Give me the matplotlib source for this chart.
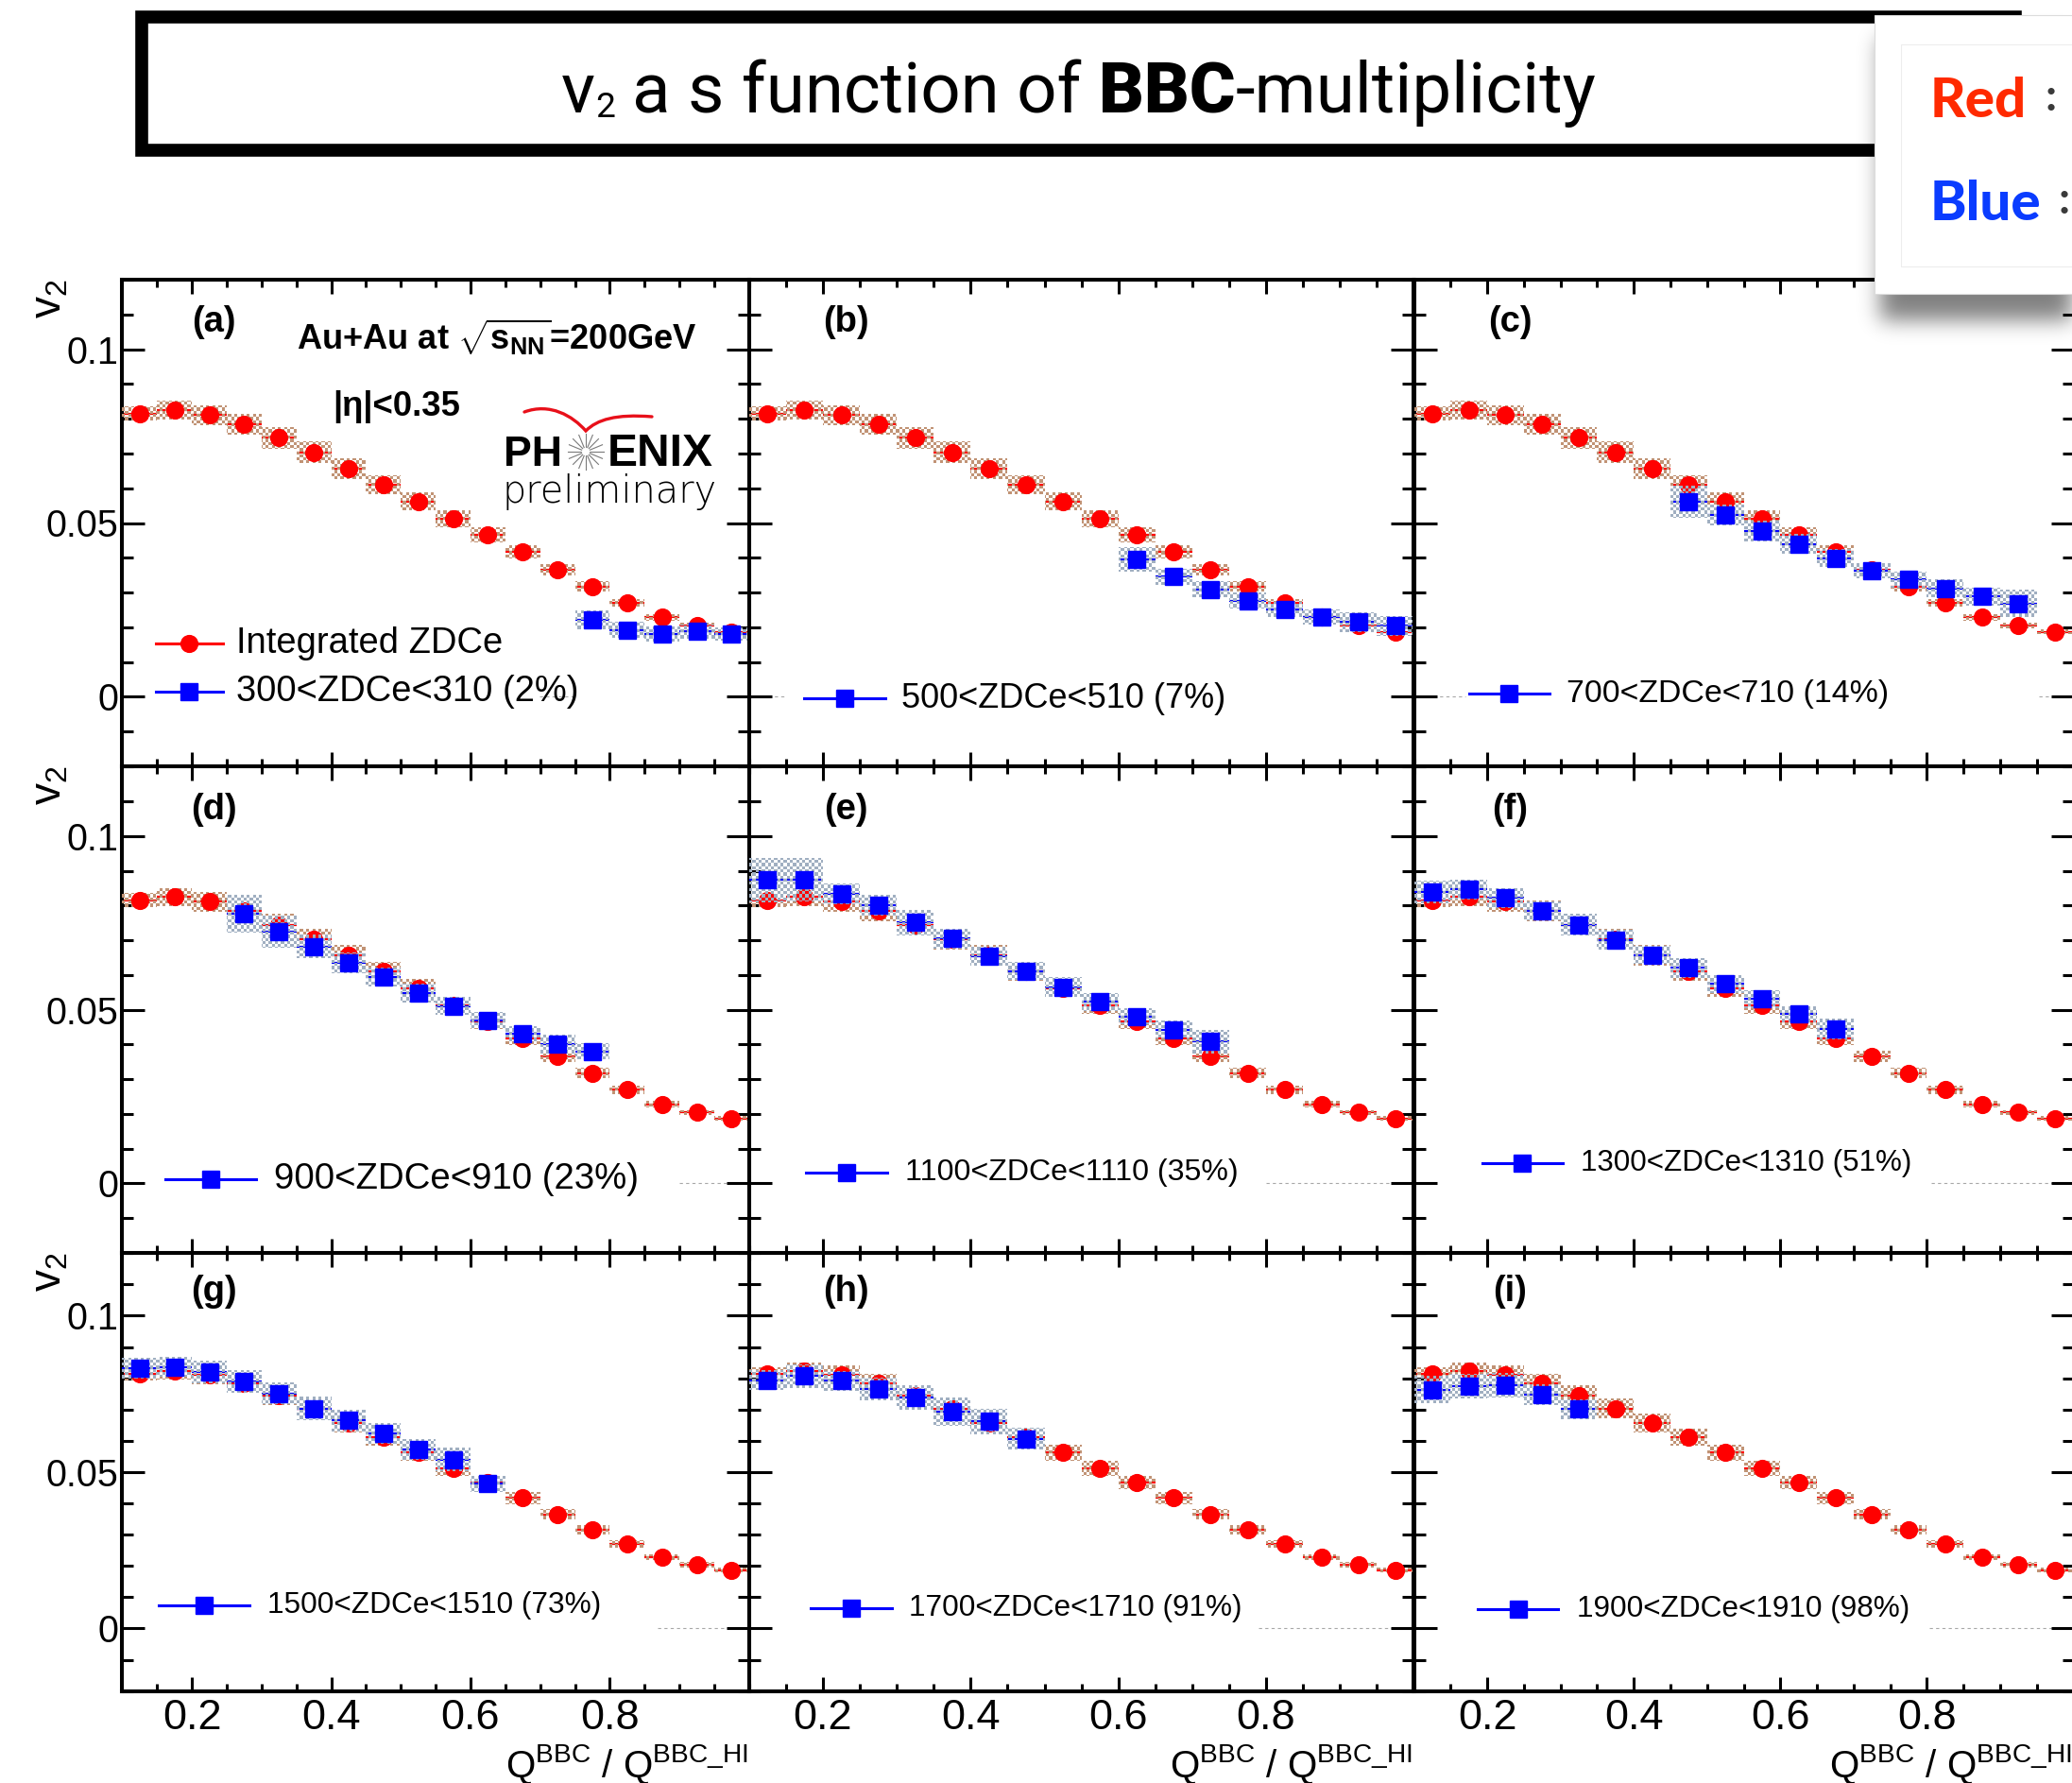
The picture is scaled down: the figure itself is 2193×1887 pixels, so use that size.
import numpy as np
import matplotlib
matplotlib.use('Agg')
import matplotlib.pyplot as plt
from matplotlib.patches import Rectangle, PathPatch
from matplotlib.path import Path
from matplotlib.ticker import MultipleLocator, FixedLocator, FuncFormatter

plt.rcParams['font.family'] = ['Liberation Sans', 'DejaVu Sans']
plt.rcParams['mathtext.fontset'] = 'custom'
plt.rcParams['mathtext.rm'] = 'Liberation Sans'
plt.rcParams['mathtext.bf'] = 'Liberation Sans:bold'
plt.rcParams['mathtext.it'] = 'Liberation Sans:italic'

W, H, DPI = 2193, 1887, 100

# Q^BBC / Q^BBC_HI bin centres (bin half width 0.025)
q_centres = [0.125, 0.175, 0.225, 0.275, 0.325, 0.375, 0.425, 0.475, 0.525,
             0.575, 0.625, 0.675, 0.725, 0.775, 0.825, 0.875, 0.925, 0.975]
q_half = 0.025

# integrated ZDCe v2 and systematic half-heights
v2_int = [0.0815, 0.0824, 0.0811, 0.0784, 0.0745, 0.0703, 0.0657, 0.0611, 0.0562,
          0.0513, 0.0466, 0.0417, 0.0365, 0.0317, 0.0270, 0.0228, 0.0204, 0.0187]
sys_int = [0.0021, 0.0027, 0.0029, 0.0030, 0.0032, 0.0031, 0.0030, 0.0027, 0.0026,
           0.0024, 0.0022, 0.0019, 0.0017, 0.0015, 0.0012, 0.0009, 0.0008, 0.0007]

# ZDCe-selected v2: labels, first filled bin, values and systematics
zdc_labels = ['300<ZDCe<310 (2%)', '500<ZDCe<510 (7%)', '700<ZDCe<710 (14%)',
              '900<ZDCe<910 (23%)', '1100<ZDCe<1110 (35%)', '1300<ZDCe<1310 (51%)',
              '1500<ZDCe<1510 (73%)', '1700<ZDCe<1710 (91%)', '1900<ZDCe<1910 (98%)']
zdc_first_bin = [13, 10, 7, 3, 0, 0, 0, 0, 0]

v2_a = [0.0222, 0.0192, 0.0180, 0.0188, 0.0180]
sys_a = [0.0027, 0.0023, 0.0021, 0.0020, 0.0020]
v2_b = [0.0396, 0.0346, 0.0309, 0.0276, 0.0251, 0.0229, 0.0215, 0.0204]
sys_b = [0.0035, 0.0023, 0.0023, 0.0023, 0.0021, 0.0021, 0.0028, 0.0028]
v2_c = [0.0561, 0.0522, 0.0477, 0.0440, 0.0399, 0.0363, 0.0337, 0.0312, 0.0288, 0.0268]
sys_c = [0.0047, 0.0030, 0.0030, 0.0028, 0.0026, 0.0022, 0.0023, 0.0026, 0.0026, 0.0040]
v2_d = [0.0776, 0.0725, 0.0682, 0.0635, 0.0594, 0.0548, 0.0511, 0.0470, 0.0431, 0.0401, 0.0380]
sys_d = [0.0055, 0.0046, 0.0034, 0.0030, 0.0028, 0.0028, 0.0026, 0.0023, 0.0023, 0.0026, 0.0023]
v2_e = [0.0873, 0.0875, 0.0834, 0.0801, 0.0751, 0.0705, 0.0654, 0.0611, 0.0565,
        0.0523, 0.0480, 0.0443, 0.0408]
sys_e = [0.0063, 0.0063, 0.0030, 0.0030, 0.0037, 0.0028, 0.0028, 0.0026, 0.0028,
         0.0026, 0.0023, 0.0027, 0.0033]
v2_f = [0.0839, 0.0846, 0.0822, 0.0785, 0.0745, 0.0701, 0.0658, 0.0620, 0.0574,
        0.0531, 0.0487, 0.0445]
sys_f = [0.0033, 0.0028, 0.0029, 0.0028, 0.0031, 0.0029, 0.0027, 0.0028, 0.0026,
         0.0026, 0.0024, 0.0030]
v2_g = [0.0832, 0.0836, 0.0820, 0.0789, 0.0752, 0.0703, 0.0665, 0.0624, 0.0573, 0.0540, 0.0463]
sys_g = [0.0033, 0.0031, 0.0035, 0.0036, 0.0035, 0.0037, 0.0034, 0.0034, 0.0034, 0.0037, 0.0026]
v2_h = [0.0794, 0.0807, 0.0792, 0.0766, 0.0738, 0.0692, 0.0662, 0.0607]
sys_h = [0.0031, 0.0037, 0.0031, 0.0037, 0.0040, 0.0045, 0.0041, 0.0036]
v2_i = [0.0764, 0.0775, 0.0778, 0.0748, 0.0701]
sys_i = [0.0045, 0.0040, 0.0040, 0.0034, 0.0032]

v2_zdc = [v2_a, v2_b, v2_c, v2_d, v2_e, v2_f, v2_g, v2_h, v2_i]
sys_zdc = [sys_a, sys_b, sys_c, sys_d, sys_e, sys_f, sys_g, sys_h, sys_i]
panel_tags = ['(a)', '(b)', '(c)', '(d)', '(e)', '(f)', '(g)', '(h)', '(i)']

# ---- layout (pixels) ----
col_px = [(129.4, 792.8), (792.8, 1496.4), (1496.5, 2194.6)]
row_px = [(296.2, 810.8), (811.2, 1326.0), (1326.2, 1789.7)]

# legend geometry per panel, in data units: line start, line end, text start, row y
leg_line = [(0.148, 0.244), (0.174, 0.285), (0.175, 0.285), (0.162, 0.292), (0.177, 0.287),
            (0.193, 0.303), (0.152, 0.282), (0.183, 0.293), (0.187, 0.297)]
leg_text_x = [0.264, 0.3065, 0.308, 0.318, 0.311, 0.328, 0.309, 0.317, 0.322]
leg_y = [0.0014, -0.0005, 0.0008, 0.0013, 0.0031, 0.0058, 0.0074, 0.0064, 0.0062]
leg_text_w = [362, 343, 341, 386, 352, 351, 354, 352, 352]
# visible pieces of the dashed zero line (the rest sits under the legend box)
zero_pieces = [[(0.699, 0.748)], [(0.1, 0.148)], [(0.1, 0.170), (0.953, 1.0)],
               [(0.90, 1.0)], [(0.80, 1.0)], [(0.806, 1.0)], [(0.869, 1.0)],
               [(0.79, 1.0)], [(0.803, 1.0)]]

RED_BOX = (0.76, 0.58, 0.46)
BLUE_BOX = (0.63, 0.69, 0.76)

fig = plt.figure(figsize=(W / DPI, H / DPI), dpi=DPI)
fig.patch.set_facecolor('white')
renderer = fig.canvas.get_renderer()
to_fit = []


def checker_layer(ax, xs, ys, dys, rgb, z, w_px, h_px, cell=3.3):
    paths = []
    for x, y, d in zip(xs, ys, dys):
        paths.append(Path([(x - q_half, y - d), (x + q_half, y - d), (x + q_half, y + d),
                           (x - q_half, y + d), (x - q_half, y - d)],
                          [Path.MOVETO, Path.LINETO, Path.LINETO, Path.LINETO, Path.CLOSEPOLY]))
    clip = Path.make_compound_path(*paths)
    nx, ny = int(round(w_px / cell)), int(round(h_px / cell))
    jj, ii = np.meshgrid(np.arange(nx), np.arange(ny))
    img = np.zeros((ny, nx, 4))
    on = (ii + jj) % 2 == 0
    img[on, :3] = rgb
    img[on, 3] = 1.0
    im = ax.imshow(img, extent=(0.1, 1.0, -0.02, 0.12), origin='lower', aspect='auto',
                   interpolation='nearest', zorder=z)
    im.set_clip_path(clip, ax.transData)


def v2_fmt(v, pos):
    if abs(v) < 1e-9:
        return '0'
    return '%g' % round(v, 3)


for k in range(9):
    r, c = divmod(k, 3)
    x0, x1 = col_px[c]
    y0, y1 = row_px[r]
    ax = fig.add_axes([x0 / W, 1 - y1 / H, (x1 - x0) / W, (y1 - y0) / H])
    ax.set_facecolor('none')

    qx = np.array(q_centres)
    # integrated ZDCe (red)
    ax.hlines(v2_int, qx - q_half, qx + q_half, colors='red', lw=1.6, zorder=2)
    checker_layer(ax, qx, v2_int, sys_int, RED_BOX, 3, x1 - x0, y1 - y0)
    ax.plot(qx, v2_int, 'o', color='red', ms=12.8, mec='red', zorder=4)

    # ZDCe selection (blue)
    bx = qx[zdc_first_bin[k]:zdc_first_bin[k] + len(v2_zdc[k])]
    ax.hlines(v2_zdc[k], bx - q_half, bx + q_half, colors='blue', lw=1.6, zorder=5)
    checker_layer(ax, bx, v2_zdc[k], sys_zdc[k], BLUE_BOX, 6, x1 - x0, y1 - y0)
    ax.plot(bx, v2_zdc[k], 's', color='blue', ms=13.0, mec='blue', zorder=7)

    for za, zb in zero_pieces[k]:
        ax.hlines(0, za, zb, colors='#a8a8a8', lw=0.8, linestyles=(0, (3, 3)), zorder=1)

    # legend
    la, lb = leg_line[k]
    ly = leg_y[k]
    ax.plot([la, lb], [ly, ly], color='blue', lw=2.2, zorder=9)
    ax.plot([(la + lb) / 2], [ly], 's', color='blue', ms=13.0, zorder=9)
    t = ax.text(leg_text_x[k], ly, zdc_labels[k], ha='left', va='center', fontsize=26, zorder=9)
    to_fit.append((t, leg_text_w[k]))
    if k == 0:
        ry = 0.0152
        ax.plot([la, lb], [ry, ry], color='red', lw=2.2, zorder=9)
        ax.plot([(la + lb) / 2], [ry], 'o', color='red', ms=12.8, zorder=9)
        t = ax.text(leg_text_x[k], ry, 'Integrated ZDCe', ha='left', va='center', fontsize=26, zorder=9)
        to_fit.append((t, 282))

    ax.text(0.146, 0.912, panel_tags[k], transform=ax.transAxes, ha='center', va='center',
            fontsize=27.5, fontweight='bold', zorder=9)

    ax.set_xlim(0.1, 1.0)
    ax.set_ylim(-0.02, 0.12)
    ax.xaxis.set_major_locator(FixedLocator([0.2, 0.4, 0.6, 0.8]))
    ax.xaxis.set_minor_locator(MultipleLocator(0.05))
    ax.yaxis.set_major_locator(MultipleLocator(0.05))
    ax.yaxis.set_minor_locator(MultipleLocator(0.01))
    ax.yaxis.set_major_formatter(FuncFormatter(v2_fmt))
    for sp in ax.spines.values():
        sp.set_linewidth(2.9)
    ax.tick_params(which='both', direction='in', top=True, right=True, width=2.2)
    ax.tick_params(axis='y', which='major', length=17.5, pad=3, labelsize=28.5)
    ax.tick_params(axis='y', which='minor', length=8.5)
    ax.tick_params(axis='x', which='major', length=11, pad=6, labelsize=32.5)
    ax.tick_params(axis='x', which='minor', length=6)
    ax.tick_params(labelleft=(c == 0), labelbottom=(r == 2))

# ---- overlay in pixel coordinates ----
ov = fig.add_axes([0, 0, 1, 1], zorder=50)
ov.set_xlim(0, W)
ov.set_ylim(H, 0)
ov.axis('off')
ov.patch.set_alpha(0)

# axis titles
for r in range(3):
    ov.text(52, row_px[r][0] - 1, r'v$_2$', rotation=90, ha='center', va='top', fontsize=33)
xtitles = []
for c in range(3):
    t = ov.text(col_px[c][1] - 1, 1881, r'Q$^{\mathrm{BBC}}$ / Q$^{\mathrm{BBC\_HI}}$',
                ha='right', va='baseline', fontsize=29)
    xtitles.append(t)
to_fit.append((xtitles[0], 257))

# collision system and acceptance
t = ov.text(314, 370, r'Au+Au at $\sqrt{\mathbf{s}_{\mathbf{NN}}}$=200GeV', ha='left',
            va='baseline', fontsize=25, fontweight='bold')
to_fit.append((t, 425))
t = ov.text(352, 440, '|η|<0.35', ha='left', va='baseline', fontsize=25, fontweight='bold')
to_fit.append((t, 135))

# PHENIX preliminary mark
t = ov.text(595, 493, 'PH', ha='right', va='baseline', fontsize=32, fontweight='bold')
to_fit.append((t, 62))
t = ov.text(643, 493, 'ENIX', ha='left', va='baseline', fontsize=32, fontweight='bold')
to_fit.append((t, 112))
for a in np.linspace(0, np.pi, 9)[:-1]:
    L = 19
    ov.plot([620 - L * np.cos(a), 620 + L * np.cos(a)], [478 - L * np.sin(a), 478 + L * np.sin(a)],
            color='#7a7a7a', lw=0.8)
ov.add_patch(plt.Circle((620, 478), 3.5, color='white', zorder=3))
t = ov.text(531, 532, 'preliminary', ha='left', va='baseline', fontsize=30,
            family='DejaVu Sans', fontweight='light')
to_fit.append((t, 227))
swoosh = Path([(555, 436), (582, 426), (606, 440), (620, 456),
               (632, 444), (652, 438), (690, 441)],
              [Path.MOVETO, Path.CURVE4, Path.CURVE4, Path.CURVE4,
               Path.CURVE4, Path.CURVE4, Path.CURVE4])
ov.add_patch(PathPatch(swoosh, fill=False, edgecolor='#e8101a', lw=2.4, capstyle='round'))

# headline box
ov.add_patch(Rectangle((149.6, 17.7), 2133 - 149.6, 159.3 - 17.7, facecolor='none',
                       edgecolor='black', lw=9.8, joinstyle='miter', zorder=2))

TITLE_FONT = ['Roboto', 'Lato', 'DejaVu Sans']
title_runs = [('v', 'normal', 1.0, 0), ('2', 'normal', 0.5, 5), (' ', None, 1.0, 0),
              ('a s function of', 'normal', 1.0, 0), (' ', None, 1.0, 0),
              ('BBC', 'black', 1.0, 0), ('-multiplicity', 'normal', 1.0, 0)]


def measure(s, size, weight):
    tt = ov.text(0, 0, s, fontsize=size, family=TITLE_FONT, fontweight=weight)
    w = tt.get_window_extent(renderer).width
    tt.remove()
    return w


def run_widths(size):
    out = []
    for s, wt, sc, dy in title_runs:
        if s == ' ':
            out.append(measure('n n', size, 'normal') - measure('nn', size, 'normal'))
        else:
            out.append(measure(s, size * sc, wt))
    return out


base = 50.0
size = base * 1096 / sum(run_widths(base))
x = 594
for (s, wt, sc, dy), w in zip(title_runs, run_widths(size)):
    if s != ' ':
        ov.text(x, 119 + dy, s, ha='left', va='baseline', fontsize=size * sc,
                family=TITLE_FONT, fontweight=wt, zorder=3)
    x += w

# pop-up note with drop shadow
sx0, sx1, sy0, sy1 = 1940, 2193, 0, 420
yy, xx = np.mgrid[sy0:sy1, sx0:sx1]
mask = ((xx >= 1990) & (yy >= 40) & (yy <= 338)).astype(float)
g = np.exp(-0.5 * (np.arange(-36, 37) / 11.0) ** 2)
g /= g.sum()
mask = np.apply_along_axis(lambda m: np.convolve(m, g, mode='same'), 0, mask)
mask = np.apply_along_axis(lambda m: np.convolve(m, g, mode='same'), 1, mask)
shadow = np.zeros(mask.shape + (4,))
shadow[..., 3] = 0.5 * mask
ov.imshow(shadow, extent=(sx0, sx1, sy1, sy0), origin='upper', aspect='auto', zorder=4,
          interpolation='bilinear')
ov.set_xlim(0, W)
ov.set_ylim(H, 0)
ov.add_patch(Rectangle((1984, 16), 260, 295, facecolor='white', edgecolor='#dcdcdc',
                       lw=0.8, zorder=5))
ov.add_patch(Rectangle((2012, 47), 260, 235, facecolor='none', edgecolor='#ededed',
                       lw=0.8, zorder=6))
ov.text(2043, 124, 'Red', ha='left', va='baseline', fontsize=42, family='Lato',
        fontweight='black', color='#ff2a00', zorder=7)
ov.text(2171, 103, ':', ha='center', va='center', fontsize=34, family='Lato',
        fontweight='bold', color='#3a3a3a', zorder=7)
ov.text(2043, 233, 'Blue', ha='left', va='baseline', fontsize=42, family='Lato',
        fontweight='black', color='#0a3cff', zorder=7)
ov.text(2185, 212, ':', ha='center', va='center', fontsize=34, family='Lato',
        fontweight='bold', color='#3a3a3a', zorder=7)

# scale labels to their measured widths
for t, target in to_fit:
    w = t.get_window_extent(renderer).width
    t.set_fontsize(t.get_fontsize() * target / w)

# the three axis titles share one size
for t in xtitles[1:]:
    t.set_fontsize(xtitles[0].get_fontsize())

fig.savefig('out.png', dpi=DPI, facecolor='white')
